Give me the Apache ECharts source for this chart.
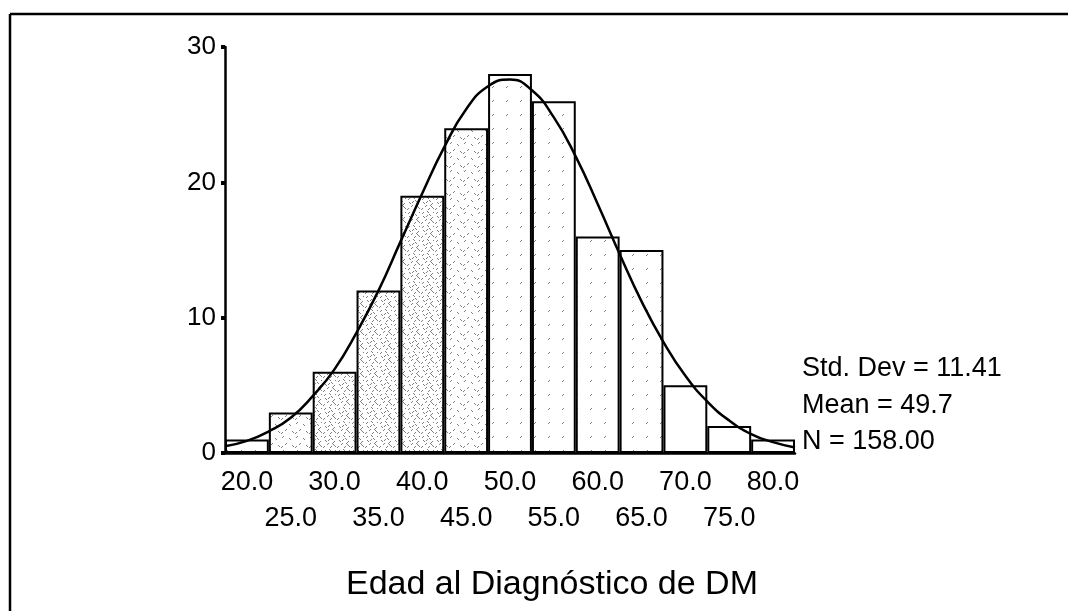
<!DOCTYPE html>
<html>
<head>
<meta charset="utf-8">
<script src="https://cdn.jsdelivr.net/npm/echarts@6/dist/echarts.min.js"></script>
<style>
  html, body { margin: 0; padding: 0; background: #fff; }
  #chart { width: 1068px; height: 611px; }
</style>
</head>
<body>
<div id="chart"></div>
<script>
// ---- data ----
const categories = ['20.0','25.0','30.0','35.0','40.0','45.0','50.0','55.0','60.0','65.0','70.0','75.0','80.0'];
const counts = [1, 3, 6, 12, 19, 24, 28, 26, 16, 15, 5, 2, 1];
// normal curve points (x = age, y = frequency)
const curveX = [17.5,20,22.5,25,27.5,30,32.5,35,37.5,40,42.5,45,47.5,50,52.5,55,57.5,60,62.5,65,67.5,70,72.5,75,77.5,80,82.5];
const curveY = [0.5,0.9,1.6,2.6,4.2,6.2,8.9,12.0,15.6,19.2,22.6,25.4,27.1,27.6,26.8,24.8,21.9,18.4,14.7,11.2,8.2,5.7,3.8,2.4,1.4,0.8,0.4];
const yTicks = [0, 10, 20, 30];
const statsLines = ['Std. Dev = 11.41', 'Mean = 49.7', 'N = 158.00'];
const axisTitle = 'Edad al Diagnóstico de DM';

// ---- styling (texture density per bar) ----
const density = [1, 2, 3, 3, 3, 2, 1, 1, 1, 1, 0, 0, 0];

function makePattern(level) {
  const c = document.createElement('canvas');
  c.width = 14; c.height = 14;
  const g = c.getContext('2d');
  g.fillStyle = '#ffffff';
  g.fillRect(0, 0, 14, 14);
  g.strokeStyle = '#808080';
  g.lineWidth = 1;
  const marks = [[2,2],[9,4],[5,9],[12,11],[1,12],[7,1],[11,7],[3,6],[8,12],[13,2],[6,5],[10,9]];
  const n = level === 3 ? 12 : level === 2 ? 5 : level === 1 ? 1 : 0;
  for (let i = 0; i < n; i++) {
    const [x, y] = marks[i];
    g.beginPath();
    if (i % 2) { g.moveTo(x, y); g.lineTo(x + 2, y + 2); }
    else { g.moveTo(x + 2, y); g.lineTo(x, y + 2); }
    g.stroke();
  }
  return { image: c, repeat: 'repeat' };
}
const patterns = [0,1,2,3].map(makePattern);

const barData = counts.map((v, i) => ({
  value: v,
  itemStyle: { color: patterns[density[i]] }
}));
const curveData = curveX.map((x, i) => [x, curveY[i]]);

const FONT = '"Liberation Sans", Arial, sans-serif';
const chart = echarts.init(document.getElementById('chart'), null, { renderer: 'canvas' });

chart.setOption({
  backgroundColor: '#ffffff',
  animation: false,
  grid: { left: 225, right: 273, top: 47, bottom: 158 },
  xAxis: [
    {
      type: 'category',
      data: categories,
      boundaryGap: true,
      axisLine: { lineStyle: { color: '#000', width: 2.5 } },
      axisTick: { alignWithLabel: true, interval: 0, length: 8, lineStyle: { color: '#000', width: 5 } },
      axisLabel: {
        interval: 0,
        color: '#000',
        fontFamily: FONT,
        fontSize: 27,
        lineHeight: 36,
        margin: 12,
        formatter: (v, i) => (i % 2 ? '\n' + v : v)
      },
      splitLine: { show: false }
    },
    {
      type: 'value',
      min: 17.5,
      max: 82.5,
      show: false,
      position: 'bottom'
    }
  ],
  yAxis: {
    type: 'value',
    min: 0,
    max: 30,
    interval: 10,
    axisLine: { show: true, lineStyle: { color: '#000', width: 2.5 } },
    axisTick: { show: true, length: 4, lineStyle: { color: '#000', width: 4 } },
    axisLabel: {
      color: '#000',
      fontFamily: FONT,
      fontSize: 26,
      margin: 9,
      formatter: v => (yTicks.indexOf(v) >= 0 ? String(v) : '')
    },
    splitLine: { show: false }
  },
  series: [
    {
      type: 'bar',
      data: barData,
      barCategoryGap: '0%',
      itemStyle: { borderColor: '#000', borderWidth: 2 },
      z: 2
    },
    {
      type: 'line',
      xAxisIndex: 1,
      data: curveData,
      smooth: true,
      symbol: 'none',
      lineStyle: { color: '#000', width: 2.5 },
      z: 3
    }
  ],
  graphic: [
    { type: 'line', shape: { x1: 10, y1: 14, x2: 1068, y2: 14 }, style: { stroke: '#000', lineWidth: 2.5 } },
    { type: 'line', shape: { x1: 10, y1: 14, x2: 10, y2: 611 }, style: { stroke: '#000', lineWidth: 2.5 } },
    ...statsLines.map((t, i) => ({
      type: 'text',
      x: 802,
      y: [369, 406, 442][i],
      style: { text: t, fill: '#000', font: '27px ' + FONT, textVerticalAlign: 'middle', textAlign: 'left' }
    })),
    {
      type: 'text',
      x: 552,
      y: 585,
      style: { text: axisTitle, fill: '#000', font: '34px ' + FONT, textVerticalAlign: 'middle', textAlign: 'center' }
    }
  ]
});
</script>
</body>
</html>
